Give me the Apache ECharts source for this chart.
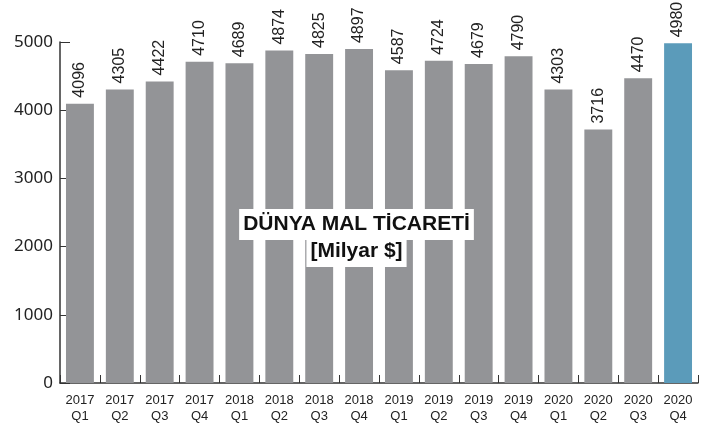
<!DOCTYPE html>
<html>
<head>
<meta charset="utf-8">
<script src="https://cdn.jsdelivr.net/npm/echarts@6/dist/echarts.min.js"></script>
<style>html,body{margin:0;padding:0;background:#fff}#c{width:713px;height:428px}</style>
</head>
<body>
<div id="c"></div>
<script>
const categories = ['2017\nQ1','2017\nQ2','2017\nQ3','2017\nQ4','2018\nQ1','2018\nQ2','2018\nQ3','2018\nQ4','2019\nQ1','2019\nQ2','2019\nQ3','2019\nQ4','2020\nQ1','2020\nQ2','2020\nQ3','2020\nQ4'];
const values = [4096,4305,4422,4710,4689,4874,4825,4897,4587,4724,4679,4790,4303,3716,4470,4980];
const yMin = 0, yMax = 5000, yStep = 1000;
const titleLine1 = 'DÜNYA MAL TİCARETİ';
const titleLine2 = '[Milyar $]';

const GRAY = '#939497', BLUE = '#5b9bba', AXIS = '#333';
const chart = echarts.init(document.getElementById('c'), null, {renderer:'canvas'});
chart.setOption({
  animation:false,
  backgroundColor:'#fff',
  grid:{left:60, right:15, top:42, bottom:45, containLabel:false},
  title:[
    {text:titleLine1, left:'center', top:209, backgroundColor:'#fff', padding:[4,4,4,4],
     textStyle:{fontFamily:'Liberation Sans', fontWeight:'bold', fontSize:21, lineHeight:23, color:'#111'}},
    {text:titleLine2, left:'center', top:238, backgroundColor:'#fff', padding:[2,4,4,4],
     textStyle:{fontFamily:'Liberation Sans', fontWeight:'bold', fontSize:21, lineHeight:23, color:'#111'}}
  ],
  xAxis:{
    type:'category', data:categories,
    axisLine:{lineStyle:{color:AXIS, width:1.5}},
    axisTick:{show:true, inside:true, length:8, alignWithLabel:false, lineStyle:{color:AXIS, width:1}},
    axisLabel:{fontFamily:'Liberation Sans Narrow, Liberation Sans', fontSize:13, color:'#222', lineHeight:16, margin:9, interval:0}
  },
  yAxis:{
    type:'value', min:yMin, max:yMax, interval:yStep,
    splitLine:{show:false},
    axisLine:{show:true, lineStyle:{color:AXIS, width:1.5}},
    axisTick:{show:true, inside:true, length:10, lineStyle:{color:AXIS, width:1}},
    axisLabel:{fontFamily:'Noto Sans', fontSize:17, color:'#222', margin:7, formatter:v => String(v)}
  },
  series:[{
    type:'bar', data:values, barCategoryGap:'30%',
    itemStyle:{color:p => p.dataIndex === values.length-1 ? BLUE : GRAY},
    label:{show:true, position:'top', rotate:90, align:'left', verticalAlign:'middle', distance:6,
      fontFamily:'Liberation Sans', fontSize:16, color:'#222'}
  }]
});
</script>
</body>
</html>
